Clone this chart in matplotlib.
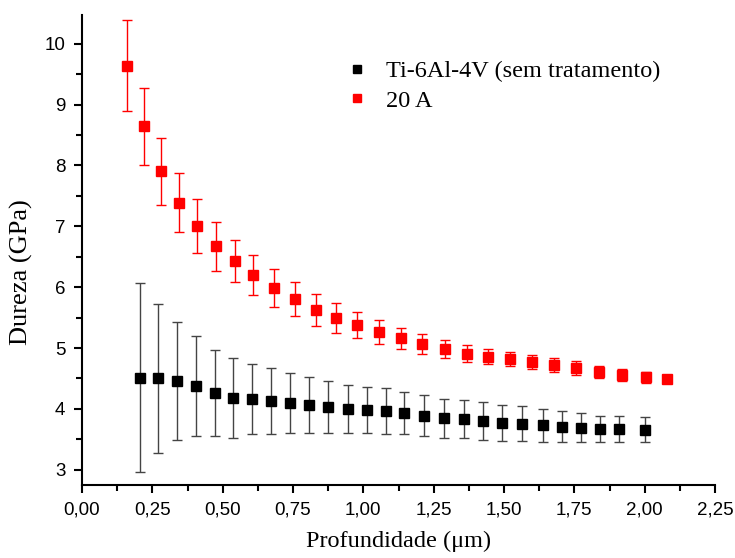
import matplotlib
matplotlib.use('Agg')
import matplotlib.pyplot as plt
from matplotlib.lines import Line2D
from matplotlib.ticker import MultipleLocator, FuncFormatter

# Ti-6Al-4V sem tratamento
prof_ti = [0.205, 0.271, 0.338, 0.404, 0.472, 0.538, 0.604, 0.672, 0.738, 0.807,
           0.876, 0.945, 1.012, 1.080, 1.146, 1.216, 1.286, 1.356, 1.424, 1.494,
           1.564, 1.637, 1.706, 1.774, 1.842, 1.910, 2.000]
dureza_ti = [4.51, 4.50, 4.46, 4.37, 4.26, 4.18, 4.16, 4.13, 4.10, 4.07,
             4.03, 4.00, 3.98, 3.97, 3.93, 3.89, 3.85, 3.83, 3.80, 3.77,
             3.76, 3.73, 3.71, 3.69, 3.67, 3.67, 3.66]
erro_ti = [1.55, 1.23, 0.97, 0.82, 0.71, 0.65, 0.58, 0.54, 0.49, 0.46,
           0.43, 0.40, 0.38, 0.38, 0.35, 0.34, 0.32, 0.31, 0.31, 0.30,
           0.28, 0.27, 0.25, 0.24, 0.22, 0.22, 0.20]

# 20 A
prof_20a = [0.161, 0.220, 0.281, 0.344, 0.408, 0.476, 0.542, 0.609, 0.684, 0.756,
            0.831, 0.903, 0.979, 1.056, 1.133, 1.210, 1.289, 1.369, 1.443, 1.521,
            1.600, 1.678, 1.756, 1.837, 1.921, 2.003, 2.079]
dureza_20a = [9.64, 8.64, 7.90, 7.39, 7.00, 6.67, 6.43, 6.20, 5.99, 5.81,
              5.63, 5.50, 5.38, 5.26, 5.16, 5.07, 4.98, 4.91, 4.86, 4.82,
              4.77, 4.72, 4.67, 4.61, 4.56, 4.52, 4.49]
erro_20a = [0.75, 0.63, 0.55, 0.48, 0.44, 0.40, 0.35, 0.33, 0.31, 0.28,
            0.26, 0.245, 0.21, 0.20, 0.17, 0.16, 0.15, 0.14, 0.13, 0.12,
            0.12, 0.12, 0.11, 0.10, 0.10, 0.09, 0.06]

nomes = ['Ti-6Al-4V (sem tratamento)', '20 A']

serif = ['Liberation Serif', 'DejaVu Serif']
sans = ['Liberation Sans', 'DejaVu Sans']

fig = plt.figure(figsize=(7.35, 5.58), dpi=100)
ax = fig.add_axes([0.1116, 0.1308, 0.8612, 0.8423])

ax.errorbar(prof_ti, dureza_ti, yerr=erro_ti, fmt='s', color='black', ms=7,
            ecolor='#444444', elinewidth=1, capsize=3.5, capthick=1)
ax.errorbar(prof_20a, dureza_20a, yerr=erro_20a, fmt='s', color='#ff0000', ms=7,
            ecolor='#ff0000', elinewidth=1, capsize=3.5, capthick=1)

ax.set_xlim(0, 2.25)
ax.set_ylim(2.75, 10.47)
ax.xaxis.set_major_locator(MultipleLocator(0.25))
ax.xaxis.set_minor_locator(MultipleLocator(0.125))
ax.yaxis.set_major_locator(MultipleLocator(1))
ax.yaxis.set_minor_locator(MultipleLocator(0.5))
ax.xaxis.set_major_formatter(FuncFormatter(lambda v, p: f'{v:.2f}'.replace('.', ',')))
ax.yaxis.set_major_formatter(FuncFormatter(lambda v, p: f'{v:.0f}'))

for s in ['top', 'right']:
    ax.spines[s].set_visible(False)
for s in ['left', 'bottom']:
    ax.spines[s].set_linewidth(1.5)

ax.tick_params(which='major', direction='out', length=6, width=1.5, labelsize=13.5, pad=6)
ax.tick_params(which='minor', direction='out', length=4, width=1.5)
for lbl in ax.get_xticklabels() + ax.get_yticklabels():
    lbl.set_family(sans)

ax.set_xlabel('Profundidade (μm)', family=serif, fontsize=17.5, labelpad=9)
ax.set_ylabel('Dureza (GPa)', family=serif, fontsize=19)
ax.yaxis.set_label_coords(-0.077, 0.453)

# legenda so com os marcadores
handles = [Line2D([], [], ls='none', marker='s', color='black', ms=5.8),
           Line2D([], [], ls='none', marker='s', color='#ff0000', ms=5.8)]
ax.legend(handles, nomes, loc='upper left', bbox_to_anchor=(0.38, 0.95), frameon=False,
          prop={'family': serif, 'size': 17.5}, handlelength=1.0, handletextpad=0.7,
          labelspacing=0.3)

fig.savefig('out.png', dpi=100)
